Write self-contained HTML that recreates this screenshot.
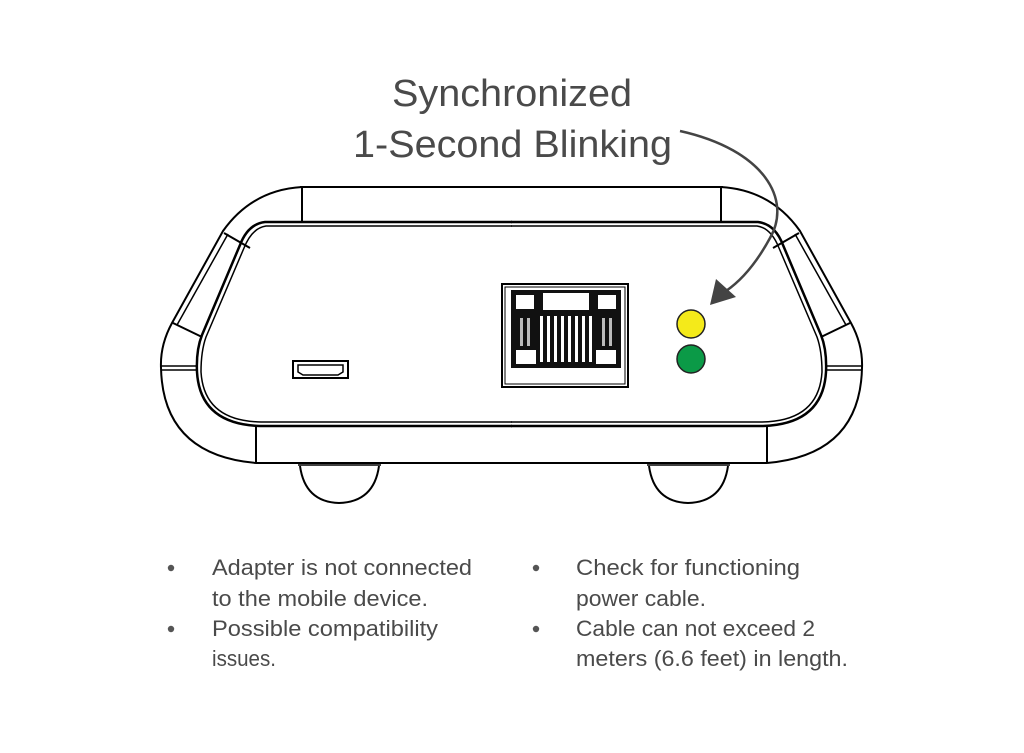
<!DOCTYPE html>
<html><head><meta charset="utf-8"><style>
html,body{margin:0;padding:0;background:#fff;}
svg{display:block;}
text{font-family:"Liberation Sans",sans-serif;fill:#4a4a4a;}
</style></head><body>
<svg width="1024" height="753" viewBox="0 0 1024 753" xmlns="http://www.w3.org/2000/svg">
<rect width="1024" height="753" fill="#fff"/>
<text x="392" y="106" font-size="38" textLength="240" lengthAdjust="spacingAndGlyphs">Synchronized</text>
<text x="353" y="157" font-size="38" textLength="319" lengthAdjust="spacingAndGlyphs">1-Second Blinking</text>

<g fill="none" stroke="#000" stroke-width="2">
 <line x1="300" y1="187" x2="723" y2="187"/>
 <line x1="256" y1="463" x2="767" y2="463"/>
 <line x1="302" y1="187" x2="302" y2="222"/>
 <line x1="721" y1="187" x2="721" y2="222"/>
 <line x1="256" y1="426" x2="256" y2="463"/>
 <line x1="767" y1="426" x2="767" y2="463"/>
 <g>
  <path d="M302,187 Q252,190 223,231 L172,323 Q160,345 161,368 Q163,455 256,463"/>
  <line x1="228" y1="234" x2="177" y2="325" stroke-width="1.5"/>
  <line x1="224" y1="233" x2="250" y2="248"/>
  <line x1="173" y1="323" x2="202" y2="337"/>
  <line x1="161" y1="366" x2="198" y2="366" stroke-width="1.5"/>
  <line x1="161" y1="370" x2="198" y2="370" stroke-width="1.5"/>
  <path d="M512,222 L265,222 Q248,224 240,245 L202,335 Q196,350 197,372 Q200,424 260,426 L512,426" stroke-width="2.5"/>
  <path d="M512,226 L266,226 Q252,228 244,248 L206,337 Q201,351 201,372 Q204,421 261,422 L512,422" stroke-width="1.5"/>
 </g>
 <g transform="translate(1023,0) scale(-1,1)">
  <path d="M302,187 Q252,190 223,231 L172,323 Q160,345 161,368 Q163,455 256,463"/>
  <line x1="228" y1="234" x2="177" y2="325" stroke-width="1.5"/>
  <line x1="224" y1="233" x2="250" y2="248"/>
  <line x1="173" y1="323" x2="202" y2="337"/>
  <line x1="161" y1="366" x2="198" y2="366" stroke-width="1.5"/>
  <line x1="161" y1="370" x2="198" y2="370" stroke-width="1.5"/>
  <path d="M512,222 L265,222 Q248,224 240,245 L202,335 Q196,350 197,372 Q200,424 260,426 L512,426" stroke-width="2.5"/>
  <path d="M512,226 L266,226 Q252,228 244,248 L206,337 Q201,351 201,372 Q204,421 261,422 L512,422" stroke-width="1.5"/>
 </g>
 <path d="M300,466 Q305,502 339,503 Q374,502 379,466"/>
 <line x1="298" y1="465" x2="381" y2="465" stroke-width="1.5"/>
 <path d="M649,466 Q654,502 688,503 Q723,502 728,466"/>
 <line x1="647" y1="465" x2="730" y2="465" stroke-width="1.5"/>
 <rect x="293" y="361" width="55" height="17" stroke-width="2"/>
 <path d="M298,365 L343,365 L343,372 L338,375 L303,375 L298,372 Z" stroke-width="1.5"/>
 <rect x="502" y="284" width="126" height="103" stroke-width="2"/>
 <rect x="505" y="287" width="120" height="97" stroke-width="1"/>
</g>
<rect x="511" y="290" width="110" height="78" fill="#111"/>
<rect x="516" y="295" width="18" height="14" fill="#fff"/>
<rect x="598" y="295" width="18" height="14" fill="#fff"/>
<rect x="543" y="293" width="46" height="17" fill="#fff"/>
<rect x="516" y="350" width="20" height="14" fill="#fff"/>
<rect x="596" y="350" width="20" height="14" fill="#fff"/>
<g fill="#fff">
 <rect x="540" y="316" width="3" height="46"/>
 <rect x="547" y="316" width="3" height="46"/>
 <rect x="554" y="316" width="3" height="46"/>
 <rect x="561" y="316" width="3" height="46"/>
 <rect x="568" y="316" width="3" height="46"/>
 <rect x="575" y="316" width="3" height="46"/>
 <rect x="582" y="316" width="3" height="46"/>
 <rect x="589" y="316" width="3" height="46"/>
 <rect x="520" y="318" width="3" height="28" fill="#bbb"/>
 <rect x="527" y="318" width="3" height="28" fill="#bbb"/>
 <rect x="602" y="318" width="3" height="28" fill="#bbb"/>
 <rect x="609" y="318" width="3" height="28" fill="#bbb"/>
</g>
<circle cx="691" cy="324" r="14" fill="#f4ea1a" stroke="#222" stroke-width="1.5"/>
<circle cx="691" cy="359" r="14" fill="#0b9a47" stroke="#222" stroke-width="1.5"/>
<path d="M680,131 C765,150 792,200 770,238 C757,262 742,280 726,291" fill="none" stroke="#444" stroke-width="2.5"/>
<path d="M710,305 L716,279 L736,297 Z" fill="#444"/>
<g font-size="22">
 <circle cx="171" cy="568" r="3.2" fill="#555"/>
 <circle cx="171" cy="629" r="3.2" fill="#555"/>
 <circle cx="536" cy="568" r="3.2" fill="#555"/>
 <circle cx="536" cy="629" r="3.2" fill="#555"/>
 <text x="212" y="575" textLength="260" lengthAdjust="spacingAndGlyphs">Adapter is not connected</text>
 <text x="212" y="606" textLength="216" lengthAdjust="spacingAndGlyphs">to the mobile device.</text>
 <text x="212" y="636" textLength="226" lengthAdjust="spacingAndGlyphs">Possible compatibility</text>
 <text x="212" y="666" textLength="64" lengthAdjust="spacingAndGlyphs">issues.</text>
 <text x="576" y="575" textLength="224" lengthAdjust="spacingAndGlyphs">Check for functioning</text>
 <text x="576" y="606" textLength="130" lengthAdjust="spacingAndGlyphs">power cable.</text>
 <text x="576" y="636" textLength="239" lengthAdjust="spacingAndGlyphs">Cable can not exceed 2</text>
 <text x="576" y="666" textLength="272" lengthAdjust="spacingAndGlyphs">meters (6.6 feet) in length.</text>
</g>
</svg>
</body></html>
